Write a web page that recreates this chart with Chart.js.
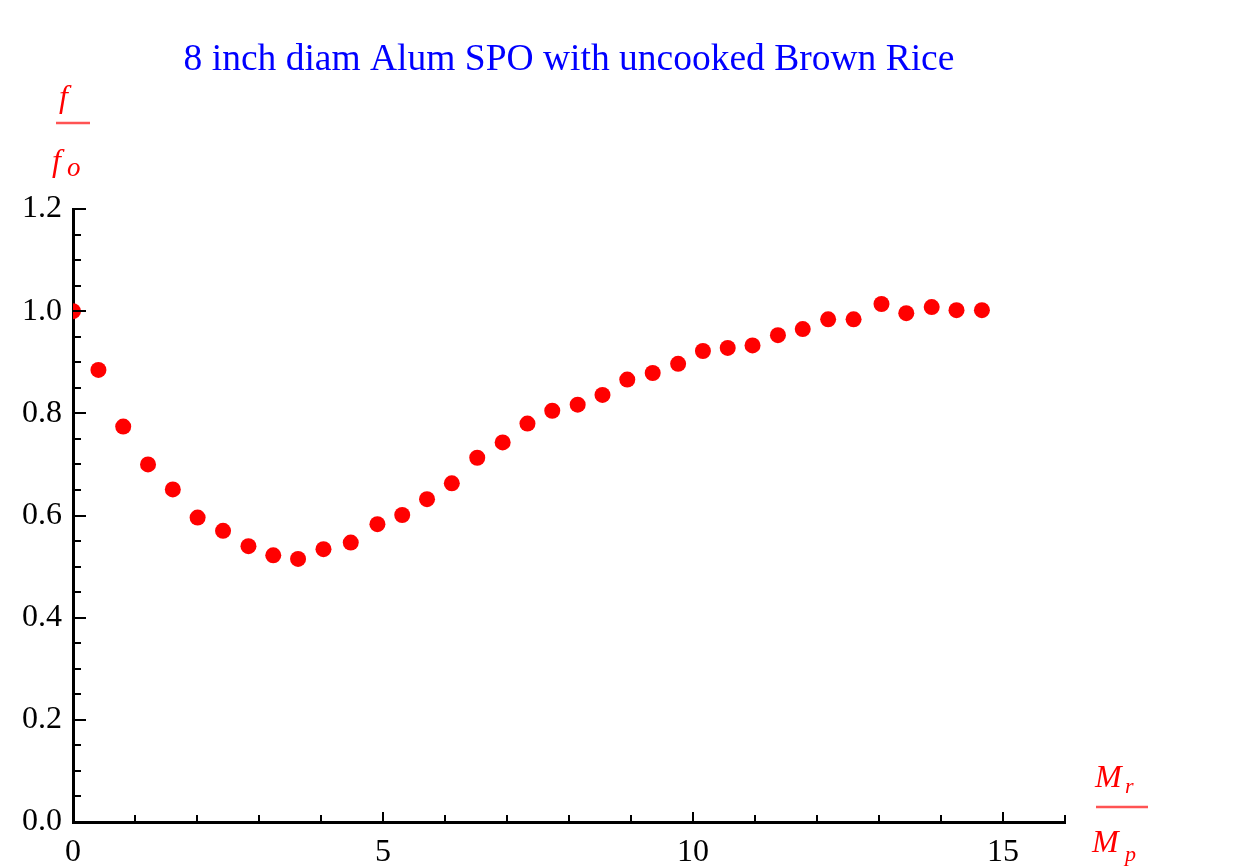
<!DOCTYPE html>
<html lang="en">
<head>
  <meta charset="UTF-8" />
  <title>8 inch diam Alum SPO with uncooked Brown Rice</title>
  <script src="https://cdn.jsdelivr.net/npm/chart.js"></script>
  <style>
    html, body { margin: 0; padding: 0; background: #fff; }
    #wrap { width: 1247px; height: 867px; }
  </style>
</head>
<body>
  <div id="wrap"><canvas id="freqChart" width="1247" height="867"></canvas></div>

  <script>
    // mass ratio Mr/Mp
    const massRatio = [
      0.00, 0.41, 0.81, 1.21, 1.61, 2.01, 2.42, 2.83, 3.23, 3.63,
      4.04, 4.48, 4.91, 5.31, 5.71, 6.11, 6.52, 6.93, 7.33, 7.73,
      8.14, 8.54, 8.94, 9.35, 9.76, 10.16, 10.56, 10.96, 11.37, 11.77,
      12.18, 12.59, 13.04, 13.44, 13.85, 14.25, 14.66
    ];
    // frequency ratio f/fo
    const freqRatio = [
      1.000, 0.885, 0.774, 0.700, 0.651, 0.596, 0.570, 0.540, 0.522, 0.515,
      0.534, 0.547, 0.583, 0.601, 0.632, 0.663, 0.713, 0.743, 0.780, 0.805,
      0.817, 0.836, 0.866, 0.879, 0.897, 0.922, 0.928, 0.933, 0.953, 0.965,
      0.984, 0.984, 1.014, 0.996, 1.008, 1.002, 1.002
    ];

    const xTicks = [0, 5, 10, 15];
    const yTicks = [0.0, 0.2, 0.4, 0.6, 0.8, 1.0, 1.2];

    const serif = "'Liberation Serif', 'Times New Roman', serif";

    // inward tick marks, Mathematica style, plus the fraction axis labels
    const frameTicks = {
      id: "frameTicks",
      afterDraw(chart) {
        const { ctx, chartArea: a, scales: { x, y } } = chart;
        ctx.save();
        ctx.strokeStyle = "#000";
        ctx.lineWidth = 2;
        ctx.beginPath();
        for (let v = 1; v <= 16; v++) {
          const len = xTicks.includes(v) ? 10 : 7;
          const px = Math.round(x.getPixelForValue(v));
          ctx.moveTo(px, a.bottom);
          ctx.lineTo(px, a.bottom - len);
        }
        for (let i = 1; i <= 24; i++) {
          const len = i % 4 === 0 ? 13 : 8;
          const py = Math.round(y.getPixelForValue(i * 0.05));
          ctx.moveTo(a.left, py);
          ctx.lineTo(a.left + len, py);
        }
        ctx.stroke();

        ctx.fillStyle = "#ff0000";
        ctx.strokeStyle = "rgba(255,40,40,0.8)";
        ctx.lineWidth = 2.5;
        ctx.textBaseline = "alphabetic";

        // f / fo
        ctx.textAlign = "left";
        ctx.font = "italic 32px " + serif;
        ctx.fillText("f", a.left - 14, a.top - 102);
        ctx.beginPath();
        ctx.moveTo(a.left - 17, a.top - 86);
        ctx.lineTo(a.left + 17, a.top - 86);
        ctx.stroke();
        ctx.fillText("f", a.left - 21, a.top - 38);
        ctx.font = "italic 27px " + serif;
        ctx.fillText("o", a.left - 6, a.top - 33);

        // Mr / Mp
        const cx = a.right + 56;
        ctx.font = "italic 32px " + serif;
        ctx.fillText("M", cx - 26, a.bottom - 35);
        ctx.fillText("M", cx - 29, a.bottom + 30);
        ctx.font = "italic 22px " + serif;
        ctx.fillText("r", cx + 4, a.bottom - 29);
        ctx.fillText("p", cx + 4, a.bottom + 39);
        ctx.beginPath();
        ctx.moveTo(cx - 25, a.bottom - 15);
        ctx.lineTo(cx + 27, a.bottom - 15);
        ctx.stroke();
        ctx.restore();
      }
    };

    new Chart(document.getElementById("freqChart"), {
      type: "scatter",
      data: {
        datasets: [{
          data: massRatio.map((m, i) => ({ x: m, y: freqRatio[i] })),
          backgroundColor: "#ff0000",
          borderWidth: 0,
          pointRadius: 8,
          pointHoverRadius: 8,
          clip: 0
        }]
      },
      options: {
        responsive: false,
        animation: false,
        events: [],
        layout: { padding: { left: 0, right: 182, top: 0, bottom: 0 } },
        plugins: {
          legend: { display: false },
          tooltip: { enabled: false },
          title: {
            display: true,
            fullSize: false,
            text: "8 inch diam Alum SPO with uncooked Brown Rice",
            color: "#0000ff",
            font: { family: serif, size: 37.5, weight: "normal", lineHeight: 1.2 },
            padding: { top: 38, bottom: 126 }
          }
        },
        scales: {
          x: {
            type: "linear",
            min: 0,
            max: 16,
            z: 1,
            grid: { display: false },
            border: { display: true, color: "#000", width: 3 },
            afterBuildTicks: s => { s.ticks = xTicks.map(v => ({ value: v })); },
            afterFit: s => { s.height = 45; },
            ticks: {
              color: "#000",
              padding: 3,
              font: { family: serif, size: 32 },
              maxRotation: 0
            }
          },
          y: {
            type: "linear",
            min: 0,
            max: 1.2,
            z: 1,
            grid: { display: false },
            border: { display: true, color: "#000", width: 3 },
            afterBuildTicks: s => { s.ticks = yTicks.map(v => ({ value: v })); },
            afterFit: s => { s.width = 73; },
            ticks: {
              color: "#000",
              padding: 3,
              font: { family: serif, size: 32 },
              callback: v => v.toFixed(1)
            }
          }
        }
      },
      plugins: [frameTicks]
    });
  </script>
</body>
</html>
